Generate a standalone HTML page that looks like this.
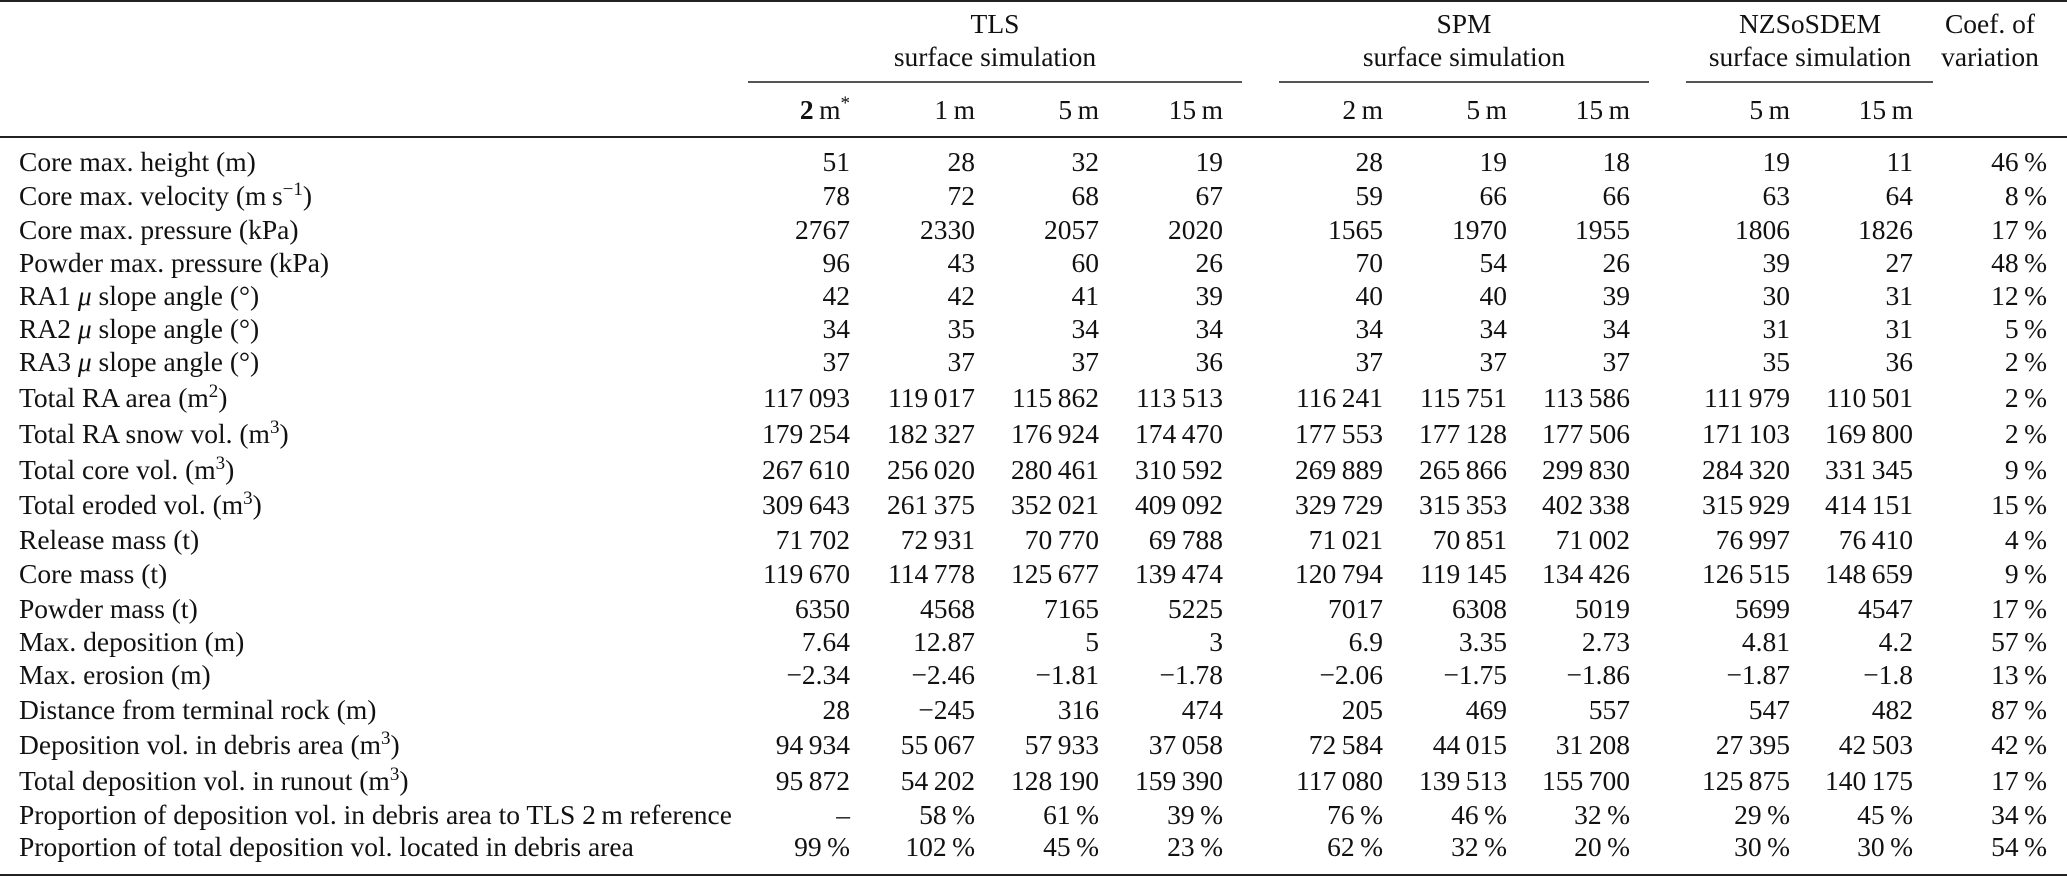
<!DOCTYPE html>
<html><head><meta charset="utf-8">
<style>
body{margin:0;background:#fff;}
#t{position:relative;width:2067px;height:877px;overflow:hidden;font-family:"Liberation Serif",serif;font-size:27.5px;color:#111;}
.c{position:absolute;white-space:nowrap;line-height:30px;}
.r{position:absolute;}
sup{font-size:19px;line-height:0;vertical-align:10px;}
</style></head><body>
<div id="t">
<div class="r" style="left:0;top:0;width:2067px;height:2px;background:#222"></div>
<div class="r" style="left:0;top:136px;width:2067px;height:2px;background:#222"></div>
<div class="r" style="left:0;top:874px;width:2067px;height:2px;background:#222"></div>
<div class="r" style="left:748px;top:81px;width:494px;height:2px;background:#555"></div>
<div class="r" style="left:1279px;top:81px;width:370px;height:2px;background:#555"></div>
<div class="r" style="left:1686px;top:81px;width:247px;height:2px;background:#555"></div>
<div class="c" style="left:745px;width:500px;text-align:center;top:9px">TLS</div>
<div class="c" style="left:745px;width:500px;text-align:center;top:42px">surface simulation</div>
<div class="c" style="left:1264px;width:400px;text-align:center;top:9px">SPM</div>
<div class="c" style="left:1264px;width:400px;text-align:center;top:42px">surface simulation</div>
<div class="c" style="left:1660px;width:300px;text-align:center;top:9px">NZSoSDEM</div>
<div class="c" style="left:1660px;width:300px;text-align:center;top:42px">surface simulation</div>
<div class="c" style="left:1930px;width:120px;text-align:center;top:9px">Coef. of</div>
<div class="c" style="left:1930px;width:120px;text-align:center;top:42px">variation</div>
</div>
<script>
const colRight=[850,975,1099,1223,1383,1507,1630,1790,1913,2047];
const subHeads=['<b>2</b>\u2009m<sup>*</sup>','1\u2009m','5\u2009m','15\u2009m','2\u2009m','5\u2009m','15\u2009m','5\u2009m','15\u2009m',''];
const rowY=[162,196,230,263,296,329,362,398,434,470,505,540,574,609,642,675,710,745,781,815,847];
const labels=['Core max. height (m)','Core max. velocity (m\u2009s<sup>\u22121</sup>)','Core max. pressure (kPa)','Powder max. pressure (kPa)','RA1 <i>\u03bc</i> slope angle (\u00b0)','RA2 <i>\u03bc</i> slope angle (\u00b0)','RA3 <i>\u03bc</i> slope angle (\u00b0)','Total RA area (m<sup>2</sup>)','Total RA snow vol. (m<sup>3</sup>)','Total core vol. (m<sup>3</sup>)','Total eroded vol. (m<sup>3</sup>)','Release mass (t)','Core mass (t)','Powder mass (t)','Max. deposition (m)','Max. erosion (m)','Distance from terminal rock (m)','Deposition vol. in debris area (m<sup>3</sup>)','Total deposition vol. in runout (m<sup>3</sup>)','Proportion of deposition vol. in debris area to TLS 2\u2009m reference','Proportion of total deposition vol. located in debris area'];
const values=[
['51','28','32','19','28','19','18','19','11','46 %'],
['78','72','68','67','59','66','66','63','64','8 %'],
['2767','2330','2057','2020','1565','1970','1955','1806','1826','17 %'],
['96','43','60','26','70','54','26','39','27','48 %'],
['42','42','41','39','40','40','39','30','31','12 %'],
['34','35','34','34','34','34','34','31','31','5 %'],
['37','37','37','36','37','37','37','35','36','2 %'],
['117 093','119 017','115 862','113 513','116 241','115 751','113 586','111 979','110 501','2 %'],
['179 254','182 327','176 924','174 470','177 553','177 128','177 506','171 103','169 800','2 %'],
['267 610','256 020','280 461','310 592','269 889','265 866','299 830','284 320','331 345','9 %'],
['309 643','261 375','352 021','409 092','329 729','315 353','402 338','315 929','414 151','15 %'],
['71 702','72 931','70 770','69 788','71 021','70 851','71 002','76 997','76 410','4 %'],
['119 670','114 778','125 677','139 474','120 794','119 145','134 426','126 515','148 659','9 %'],
['6350','4568','7165','5225','7017','6308','5019','5699','4547','17 %'],
['7.64','12.87','5','3','6.9','3.35','2.73','4.81','4.2','57 %'],
['\u22122.34','\u22122.46','\u22121.81','\u22121.78','\u22122.06','\u22121.75','\u22121.86','\u22121.87','\u22121.8','13 %'],
['28','\u2212245','316','474','205','469','557','547','482','87 %'],
['94 934','55 067','57 933','37 058','72 584','44 015','31 208','27 395','42 503','42 %'],
['95 872','54 202','128 190','159 390','117 080','139 513','155 700','125 875','140 175','17 %'],
['\u2013','58 %','61 %','39 %','76 %','46 %','32 %','29 %','45 %','34 %'],
['99 %','102 %','45 %','23 %','62 %','32 %','20 %','30 %','30 %','54 %']
];
const T=document.getElementById('t');
function cell(html,left,right,y,name){
  const d=document.createElement('div');
  d.className='c';
  d.innerHTML=html;
  d.style.top=(y-15)+'px';
  if(right!==null){d.style.right=(2067-right)+'px';}else{d.style.left=left+'px';}
  
  
  T.appendChild(d);
}
subHeads.forEach((h,i)=>{ if(h) cell(h,null,colRight[i],110,'column-header'); });
labels.forEach((l,r)=>{
  cell(l,19,null,rowY[r],'row-label');
  values[r].forEach((v,c)=>{
    cell(v.replace(/ /g,'\u2009'),null,colRight[c],rowY[r],'table-cell');
  });
});
</script>
</body></html>
